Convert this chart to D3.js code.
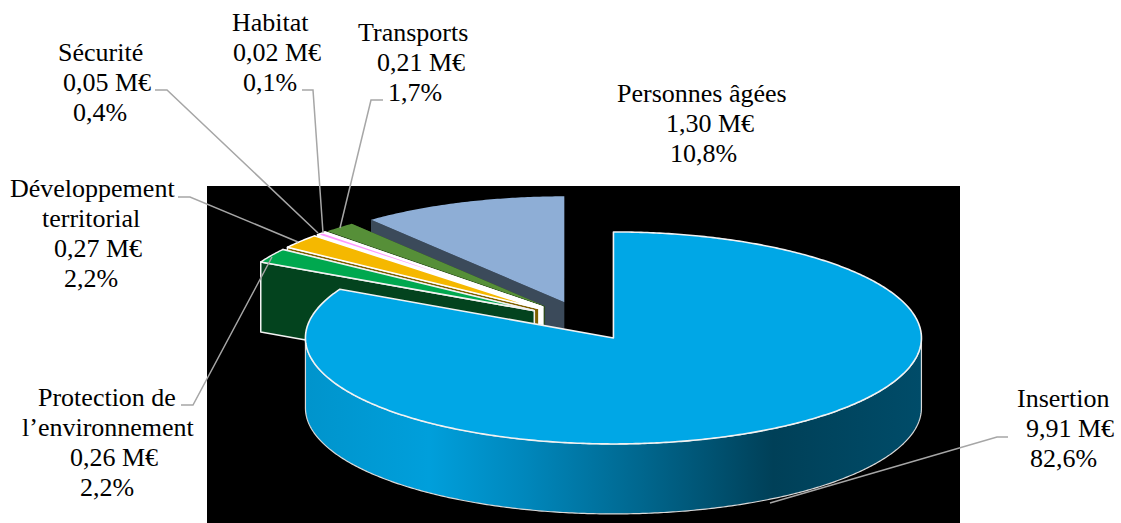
<!DOCTYPE html>
<html><head><meta charset="utf-8"><style>html,body{margin:0;padding:0;background:#fff}svg{display:block}</style>
<script src="https://cdn.jsdelivr.net/npm/d3@7"></script></head><body><div id="c"></div><script>
const categories=[["Insertion"],["Protection de","l’environnement"],["Développement","territorial"],["Sécurité"],["Habitat"],["Transports"],["Personnes âgées"]];
const sharePct=[82.6,2.2,2.2,0.4,0.1,1.7,10.8];
const amountLabels=["9,91 M€","0,26 M€","0,27 M€","0,05 M€","0,02 M€","0,21 M€","1,30 M€"];
const shareLabels=["82,6%","2,2%","2,2%","0,4%","0,1%","1,7%","10,8%"];
const topColors=["#00A7E6","#00A84F","#F5B800","#FF99FF","#FFFFFF","#568F38","#8EAED6"];
const faceColors=["#00A7E6","#03431E","#7F6000","#FFFFFF","#FFFFFF","#2C4A1C","#3B4A5A"];
const outlineColors=["#F2F2F2","#F2F2F2","#FFFFFF","#FFFFFF","#FFFFFF",null,null];
const textLines=[
 [[1017,407,0],[1026,437,1],[1030,467,2]],
 [[38,406,0],[22,436,0],[70,466,1],[80,496,2]],
 [[10,197,0],[42,227,0],[54,257,1],[64,287,2]],
 [[58,61,0],[63,91,1],[73,121,2]],
 [[232,31,0],[233,61,1],[243,91,2]],
 [[358,41,0],[377,71,1],[388,101,2]],
 [[617,102,0],[666,132,1],[670,162,2]]];
const leaders=[
 [[1008,437],[997,437],[770,503]],
 [[181,405],[193,405],[272,257]],
 [[178,197],[190,197],[298,242]],
 [[155,90],[167,90],[318,233]],
 [[302,90],[313,90],[323,233]],
 [[383,100],[371,100],[340,228]],
 []];
const W=1121,H=523,cx=583.5,cy=321,rx=308,ry=106,depth=70,explode=0.187;
const svg=d3.select("#c").append("svg").attr("width",W).attr("height",H);
svg.append("rect").attr("x",207).attr("y",186).attr("width",753).attr("height",337).attr("fill","#000");
const defs=svg.append("defs");
const grad=defs.append("linearGradient").attr("id","side").attr("gradientUnits","userSpaceOnUse").attr("x1",306).attr("x2",921).attr("y1",0).attr("y2",0);
[[0,"#0094CC"],[0.2,"#009FDB"],[0.35,"#0088BD"],[0.55,"#00668D"],[0.76,"#004058"],[1,"#004C69"]].forEach(s=>grad.append("stop").attr("offset",s[0]).attr("stop-color",s[1]));
const arcs=d3.pie().sort(null).value(d=>d)(sharePct);
const pt=(a,c,dz=0)=>[c[0]+rx*Math.sin(a),c[1]-ry*Math.cos(a)+dz];
function arcPts(a0,a1,c,dz){const n=Math.max(2,Math.ceil(Math.abs(a1-a0)/0.01));return d3.range(n+1).map(i=>pt(a0+(a1-a0)*i/n,c,dz));}
const line=d3.line();
const order=d3.range(arcs.length).reverse();
const layer=svg.append("g");
order.forEach(i=>{
 const d=arcs[i],mid=(d.startAngle+d.endAngle)/2;
 const c=[cx+explode*rx*Math.sin(mid),cy-explode*ry*Math.cos(mid)];
 const g=layer.append("g");
 const stroke=outlineColors[i],sw=i===0?1.6:1.5;
 const style=s=>s.attr("stroke",stroke||"none").attr("stroke-width",stroke?sw:0).attr("stroke-linejoin","round");
 const a0=d.startAngle,a1=d.endAngle;
 const base=[c,[c[0],c[1]+depth]];
 if(i!==0){
  [a1,a0].forEach(a=>{
   const p=pt(a,c),q=pt(a,c,depth);
   g.append("path").attr("d",line([c,p,q,base[1]])+"Z").attr("fill",faceColors[i]).call(style);
  });
 }else{
  const s=Math.PI/2,e=3*Math.PI/2;
  const top=arcPts(s,e,c,0),bot=arcPts(e,s,c,depth);
  g.append("path").attr("d",line(top.concat(bot))+"Z").attr("fill","url(#side)").attr("stroke","#D9D9D9").attr("stroke-width",1.2);
 }
 const rim=arcPts(a0,a1,c,0);
 g.append("path").attr("d",line([c].concat(rim))+"Z").attr("fill",topColors[i]).call(style);
});
const leaderG=svg.append("g");
leaders.forEach(p=>{if(p.length)leaderG.append("path").attr("d",line(p)).attr("fill","none").attr("stroke","#A6A6A6").attr("stroke-width",1.5);});
const t=svg.append("g").attr("font-family","'Liberation Serif'").attr("font-size",26).attr("fill","#000");
textLines.forEach((lines,i)=>{
 let n=0;
 lines.forEach(l=>{
  const txt=l[2]===0?categories[i][n++]:(l[2]===1?amountLabels[i]:shareLabels[i]);
  t.append("text").attr("x",l[0]).attr("y",l[1]).text(txt);
 });
});
</script></body></html>
